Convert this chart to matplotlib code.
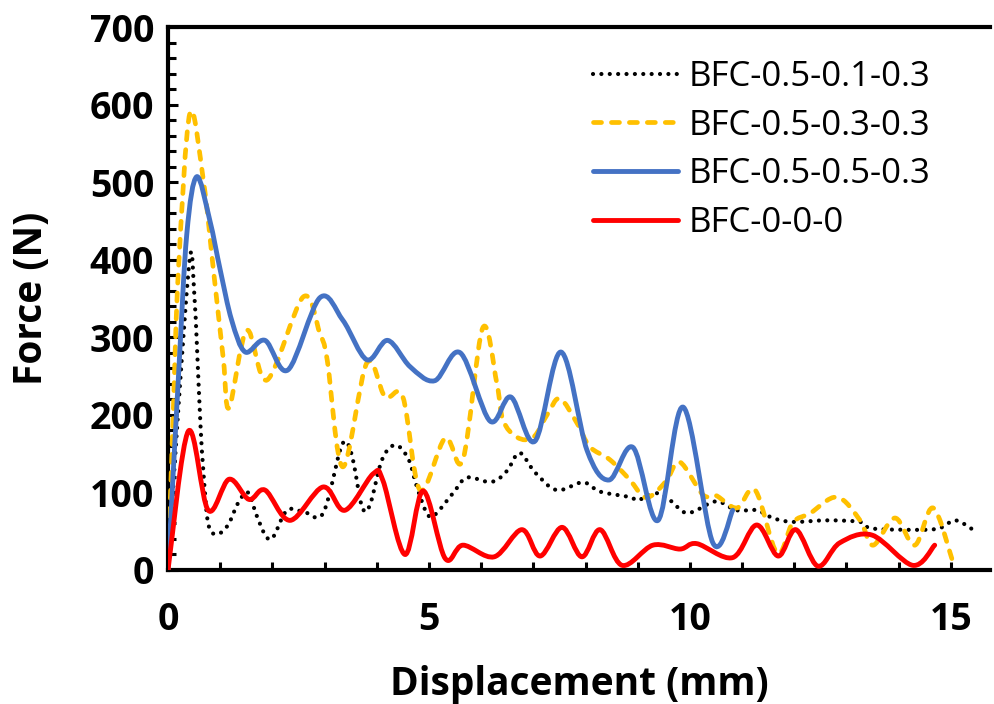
import numpy as np
import matplotlib
matplotlib.use("Agg")
import matplotlib.pyplot as plt
from matplotlib.path import Path
from matplotlib.patches import PathPatch
from matplotlib.lines import Line2D

plt.rcParams['font.family'] = ['Open Sans', 'DejaVu Sans']

# ---- data ----
labels = ["BFC-0.5-0.1-0.3", "BFC-0.5-0.3-0.3", "BFC-0.5-0.5-0.3", "BFC-0-0-0"]

x_black = [0, 0.2, 0.42, 0.5, 0.56, 0.62, 0.68, 0.77, 0.93, 1.15, 1.34, 1.53, 1.7, 1.88, 2.02,
           2.28, 2.6, 2.97, 3.3, 3.43, 3.55, 3.72, 3.87, 4.1, 4.35, 4.6, 4.77, 4.96, 5.11, 5.46,
           5.72, 6.1, 6.3, 6.51, 6.74, 7.03, 7.45, 7.95, 8.28, 8.85, 9.0, 9.37, 9.62, 9.87, 10.06,
           10.38, 10.57, 10.9, 11.28, 11.59, 11.97, 12.62, 13.26, 13.45, 14.0, 14.73, 15.08, 15.4]
f_black = [0, 210, 403, 360, 280, 190, 125, 60, 46, 58, 86, 100, 70, 43, 43,
           77, 75, 73, 155, 164, 140, 81, 84, 142, 161, 144, 107, 73, 71, 99,
           119, 114, 116, 129, 151, 126, 103, 113, 101, 94, 90, 99, 90, 75, 75,
           86, 88, 77, 77, 67, 62, 64, 62, 54, 52, 53, 64, 53]

x_yellow = [0, 0.1, 0.2, 0.42, 0.68, 0.87, 1.06, 1.17, 1.51, 1.9, 2.59, 2.91, 3.05, 3.35, 3.81,
            4.16, 4.5, 4.83, 5.31, 5.65, 6.03, 6.3, 6.42, 6.69, 7.0, 7.28, 7.51, 7.84, 8.08, 8.47,
            8.85, 9.1, 9.29, 9.56, 9.81, 10.25, 10.5, 10.9, 11.25, 11.67, 11.97, 12.3, 12.82,
            13.26, 13.51, 13.93, 14.31, 14.66, 15.04]
f_yellow = [0, 202, 387, 589, 501, 387, 272, 209, 309, 245, 352, 305, 271, 133, 267,
            223, 223, 103, 170, 142, 312, 241, 193, 171, 171, 202, 221, 189, 159, 142,
            116, 95, 97, 116, 139, 97, 96, 80, 103, 22, 61, 73, 94,
            64, 32, 67, 32, 80, 10]

x_blue = [0, 0.2, 0.36, 0.55, 0.8, 1.0, 1.22, 1.48, 1.86, 2.3, 2.91, 3.35, 3.81, 4.21, 4.64,
          5.11, 5.6, 6.17, 6.57, 7.03, 7.53, 8.03, 8.45, 8.91, 9.39, 9.87, 10.44, 10.82]
f_blue = [0, 249, 433, 507, 451, 387, 322, 281, 296, 258, 351, 322, 271, 296, 262,
          244, 280, 192, 223, 166, 281, 154, 116, 158, 64, 210, 35, 77]

x_red = [0, 0.39, 0.77, 1.17, 1.55, 1.86, 2.34, 2.97, 3.39, 3.93, 4.12, 4.54, 4.89, 5.31, 5.65,
         6.25, 6.78, 7.13, 7.55, 7.93, 8.28, 8.7, 9.29, 9.81, 10.13, 10.82, 11.28, 11.69, 12.03,
         12.45, 12.87, 13.49, 14.27, 14.69]
f_red = [0, 179, 77, 117, 91, 103, 64, 107, 77, 124, 115, 20, 102, 15, 32,
         17, 52, 18, 55, 17, 52, 6, 32, 27, 34, 16, 58, 18, 52,
         5, 35, 45, 6, 32]

x_ticks = [0, 5, 10, 15]
y_ticks = [0, 100, 200, 300, 400, 500, 600, 700]

# ---- styles ----
styles = [
    dict(color='black', lw=3.0, dashes=(0.01, 2.0), cap='round'),
    dict(color='#FFC000', lw=3.4, dashes=(1.7, 2.1), cap='round'),
    dict(color='#4472C4', lw=3.5, dashes=None, cap='round'),
    dict(color='#FF0000', lw=3.5, dashes=None, cap='round'),
]


def smooth_path(xs, ys):
    """Excel-like smoothed line: Catmull-Rom segments drawn as cubic Beziers."""
    p = np.column_stack([xs, ys]).astype(float)
    n = len(p)
    verts = [p[0]]
    codes = [Path.MOVETO]
    for i in range(n - 1):
        p0 = p[i - 1] if i > 0 else p[i]
        p1 = p[i]
        p2 = p[i + 1]
        p3 = p[i + 2] if i + 2 < n else p[i + 1]
        c1 = p1 + (p2 - p0) / 6.0
        c2 = p2 - (p3 - p1) / 6.0
        verts += [c1, c2, p2]
        codes += [Path.CURVE4] * 3
    return Path(np.array(verts), codes)


fig = plt.figure(figsize=(9.94, 7.04), dpi=100)
ax = fig.add_axes([168 / 994, 1 - 570 / 704, (990 - 168) / 994, (570 - 27) / 704])

series = [(x_black, f_black), (x_yellow, f_yellow), (x_blue, f_blue), (x_red, f_red)]
handles = []
for (xs, ys), st, lab, z in zip(series, styles, labels, [2, 3, 4, 5]):
    ls = '-' if st['dashes'] is None else (0, st['dashes'])
    patch = PathPatch(smooth_path(xs, ys), facecolor='none', edgecolor=st['color'],
                      lw=st['lw'], linestyle=ls, capstyle=st['cap'], joinstyle='round',
                      zorder=z)
    ax.add_patch(patch)
    h = Line2D([], [], color=st['color'], lw=st['lw'], linestyle=ls,
               dash_capstyle=st['cap'], solid_capstyle=st['cap'])
    handles.append(h)

ax.set_xlim(0, 15.75)
ax.set_ylim(0, 700)

ax.set_xticks(x_ticks)
ax.set_yticks(y_ticks)
ax.set_xticks(np.arange(0, 16, 1), minor=True)
ax.set_yticks(np.arange(0, 701, 20), minor=True)

ax.tick_params(axis='x', which='both', direction='in', length=6, width=2.2, pad=22)
ax.tick_params(axis='y', which='major', direction='in', length=7.5, width=2.2, pad=10)
ax.tick_params(axis='y', which='minor', direction='in', length=5.5, width=2.2)
for lab in ax.get_xticklabels() + ax.get_yticklabels():
    lab.set_fontsize(27)
    lab.set_fontweight('bold')

for side in ['left', 'bottom', 'top']:
    ax.spines[side].set_linewidth(3)
    ax.spines[side].set_color('black')
ax.spines['right'].set_visible(False)

ax.set_xlabel('Displacement (mm)', fontsize=28, fontweight='bold', labelpad=19)
ax.set_ylabel('Force (N)', fontsize=28, fontweight='bold', labelpad=28)

leg = fig.legend(handles, labels, loc='upper left', bbox_to_anchor=(593 / 994, 1 - 60 / 704),
                 frameon=False, fontsize=25, handlelength=2.45, handletextpad=0.3,
                 labelspacing=0.42, borderpad=0, borderaxespad=0)

fig.savefig('out.png', dpi=100)
